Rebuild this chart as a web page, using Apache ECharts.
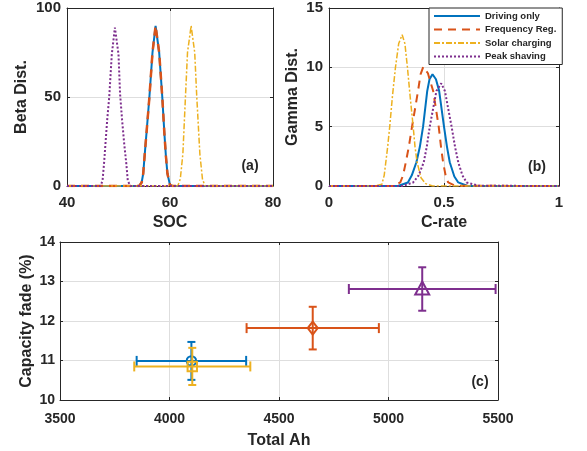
<!DOCTYPE html>
<html>
<head>
<meta charset="utf-8">
<script src="https://cdn.jsdelivr.net/npm/echarts@6/dist/echarts.min.js"></script>
<style>
  html, body { margin: 0; padding: 0; background: #fff; }
  #chart { width: 587px; height: 451px; }
</style>
</head>
<body>
<div id="chart"></div>
<script>
// Usage scenarios (legend order)
const scenarios = ['Driving only', 'Frequency Reg.', 'Solar charging', 'Peak shaving'];

// (a) Beta distribution of SOC, [SOC, density]
const socDriving = [[40,0],[54,0],[54.5,2],[54.8,7],[55.1,18],[55.5,32],[56,50],[56.6,75],[57.2,90],[57.9,75],[58.5,50],[58.9,30],[59.2,17],[59.5,7],[60,0.5],[60.5,0],[80,0]];
const socFreq    = [[40,0],[54,0],[54.5,2],[54.8,7],[55.1,18],[55.5,32],[56,50],[56.6,75],[57.2,90],[57.9,75],[58.5,50],[58.9,30],[59.2,17],[59.5,7],[60,0.5],[60.5,0],[80,0]];
const socSolar   = [[40,0],[61.5,0],[62,4],[62.5,18],[63,50],[63.4,75],[64.1,90],[64.8,75],[65.2,50],[65.8,18],[66.3,4],[66.8,0],[80,0]];
const socPeak    = [[40,0],[46.5,0],[46.9,3],[47.2,13],[47.5,25],[47.8,37],[48.2,50],[48.7,74],[49.3,89],[50,74],[50.3,52],[50.7,37],[51.1,24],[51.5,13],[51.8,3],[52.3,0],[80,0]];

// (b) Gamma distribution of C-rate, [C-rate, density]
const cDriving = [[0,0],[0.30,0],[0.343,0.3],[0.36,0.9],[0.38,2],[0.395,3.3],[0.409,5],[0.427,8],[0.437,9.0],[0.45,9.42],[0.465,9.0],[0.479,8],[0.50,5],[0.513,3.3],[0.525,2],[0.545,0.8],[0.562,0.3],[0.60,0.02],[1,0]];
const cFreq    = [[0,0],[0.28,0],[0.31,0.3],[0.322,0.9],[0.334,2],[0.347,3.3],[0.361,5],[0.387,8],[0.398,9.4],[0.41,10.05],[0.43,9.5],[0.453,8],[0.477,5],[0.487,3.3],[0.496,2],[0.507,0.9],[0.518,0.3],[0.55,0.02],[1,0]];
const cSolar   = [[0,0],[0.20,0],[0.23,0.15],[0.24,0.9],[0.247,2],[0.255,3.3],[0.264,5],[0.276,7.6],[0.289,10],[0.303,12],[0.318,12.75],[0.33,12],[0.341,10],[0.353,7.5],[0.366,5],[0.374,3.3],[0.383,2],[0.40,0.7],[0.42,0.2],[0.45,0],[1,0]];
const cPeak    = [[0,0],[0.32,0],[0.366,0.3],[0.39,0.9],[0.412,2],[0.425,3.3],[0.438,5],[0.467,8],[0.488,8.65],[0.504,8],[0.533,5],[0.548,3.3],[0.562,2],[0.58,0.9],[0.598,0.3],[0.65,0.02],[1,0]];

// (c) Capacity fade vs. total throughput, mean and error half-widths
const totalAh  = [4100, 4654, 4104, 5154];
const totalErr = [250, 302, 265, 335];
const fade     = [10.99, 11.82, 10.85, 12.81];
const fadeErr  = [0.48, 0.54, 0.47, 0.55];

// Axis ticks
const socTicks  = [40, 60, 80];
const betaTicks = [0, 50, 100];
const cTicks    = [0, 0.5, 1];
const gamTicks  = [0, 5, 10, 15];
const ahTicks   = [3500, 4000, 4500, 5000, 5500];
const fadeTicks = [10, 11, 12, 13, 14];

// ---------- styling ----------
const colors = ['#0072BD', '#D95319', '#EDB120', '#7E2F8E'];
const lineStyles = [
  { width: 2,   type: 'solid' },
  { width: 2.5, type: [8, 6] },
  { width: 1.5, type: [6, 2, 2, 2] },
  { width: 2,   type: [2, 2] }
];
const markers = ['circle', 'diamond', 'square', 'triangle'];
const ink = '#262626';
const gridColor = '#dedede';
const FONT = 'Liberation Sans, Arial, Helvetica, sans-serif';

const grids = [
  { left: 67,  top: 8,   width: 206, height: 178 },
  { left: 329, top: 8,   width: 230, height: 178 },
  { left: 60,  top: 242, width: 438, height: 158 }
];

function step(t) { return t[1] - t[0]; }
const plainNumber = v => String(v);

function mainAxis(gridIndex, ticks, name, opts) {
  return Object.assign({
    type: 'value', gridIndex,
    min: ticks[0], max: ticks[ticks.length - 1], interval: step(ticks),
    name, nameLocation: 'middle', nameMoveOverlap: false,
    nameTextStyle: { color: ink, fontFamily: FONT, fontWeight: 'bold', fontSize: 16 },
    axisLine: { show: true, onZero: false, lineStyle: { color: ink, width: 1 } },
    axisTick: { show: true, inside: true, length: 3, lineStyle: { color: ink } },
    axisLabel: { color: ink, fontFamily: FONT, fontWeight: 'bold', fontSize: 15, margin: 9, formatter: plainNumber },
    splitLine: { show: true, lineStyle: { color: gridColor, width: 1 } }
  }, opts);
}
function boxAxis(gridIndex, ticks, position) {
  return {
    type: 'value', gridIndex, position,
    min: ticks[0], max: ticks[ticks.length - 1], interval: step(ticks),
    axisLine: { show: true, onZero: false, lineStyle: { color: ink, width: 1 } },
    axisTick: { show: true, inside: true, length: 3, lineStyle: { color: ink } },
    axisLabel: { show: false },
    splitLine: { show: false }
  };
}
function labelStyle(size, margin) {
  return { color: ink, fontFamily: FONT, fontWeight: 'bold', fontSize: size, margin, formatter: plainNumber };
}

const xAxis = [
  mainAxis(0, socTicks, 'SOC', { position: 'bottom', nameGap: 29 }),
  boxAxis(0, socTicks, 'top'),
  mainAxis(1, cTicks, 'C-rate', { position: 'bottom', nameGap: 29 }),
  boxAxis(1, cTicks, 'top'),
  mainAxis(2, ahTicks, 'Total Ah', { position: 'bottom', nameGap: 33, axisLabel: labelStyle(14, 12) }),
  boxAxis(2, ahTicks, 'top')
];
const yAxis = [
  mainAxis(0, betaTicks, 'Beta Dist.', { position: 'left', nameGap: 37, axisLabel: labelStyle(15, 6) }),
  boxAxis(0, betaTicks, 'right'),
  mainAxis(1, gamTicks, 'Gamma Dist.', { position: 'left', nameGap: 28, axisLabel: labelStyle(15, 6) }),
  boxAxis(1, gamTicks, 'right'),
  mainAxis(2, fadeTicks, 'Capacity fade (%)', { position: 'left', nameGap: 25, axisLabel: labelStyle(14, 5) }),
  boxAxis(2, fadeTicks, 'right')
];

const socSets = [socDriving, socFreq, socSolar, socPeak];
const cSets = [cDriving, cFreq, cSolar, cPeak];

const series = [];
scenarios.forEach((name, i) => {
  series.push({
    name, type: 'line', xAxisIndex: 0, yAxisIndex: 0,
    data: socSets[i], symbol: 'none', animation: false,
    lineStyle: Object.assign({ color: colors[i] }, lineStyles[i]),
    itemStyle: { color: colors[i] }
  });
});
scenarios.forEach((name, i) => {
  series.push({
    name, type: 'line', xAxisIndex: 2, yAxisIndex: 2,
    data: cSets[i], symbol: 'none', animation: false,
    lineStyle: Object.assign({ color: colors[i] }, lineStyles[i], i === 1 ? { width: 2 } : {}),
    itemStyle: { color: colors[i] }
  });
});

// Error-bar marks: horizontal (Ah) and vertical (fade) bars with caps, hollow marker
function errorBarRenderer(color, marker) {
  return function (params, api) {
    const x = api.value(0), y = api.value(1), xe = api.value(2), ye = api.value(3);
    const c = api.coord([x, y]);
    const l = api.coord([x - xe, y]);
    const r = api.coord([x + xe, y]);
    const t = api.coord([x, y + ye]);
    const b = api.coord([x, y - ye]);
    const st = { stroke: color, lineWidth: 2, fill: null };
    const cx = 5, cy = 4;
    const kids = [
      { type: 'line', shape: { x1: l[0], y1: l[1], x2: r[0], y2: r[1] }, style: st },
      { type: 'line', shape: { x1: l[0], y1: l[1] - cx, x2: l[0], y2: l[1] + cx }, style: st },
      { type: 'line', shape: { x1: r[0], y1: r[1] - cx, x2: r[0], y2: r[1] + cx }, style: st },
      { type: 'line', shape: { x1: t[0], y1: t[1], x2: b[0], y2: b[1] }, style: st },
      { type: 'line', shape: { x1: t[0] - cy, y1: t[1], x2: t[0] + cy, y2: t[1] }, style: st },
      { type: 'line', shape: { x1: b[0] - cy, y1: b[1], x2: b[0] + cy, y2: b[1] }, style: st }
    ];
    if (marker === 'circle') {
      kids.push({ type: 'circle', shape: { cx: c[0], cy: c[1], r: 4.7 }, style: st });
    } else if (marker === 'square') {
      kids.push({ type: 'rect', shape: { x: c[0] - 4.7, y: c[1] - 4.7, width: 9.4, height: 9.4 }, style: st });
    } else if (marker === 'diamond') {
      kids.push({ type: 'polygon', shape: { points: [[c[0], c[1] - 6.5], [c[0] + 5, c[1]], [c[0], c[1] + 6.5], [c[0] - 5, c[1]]] }, style: st });
    } else {
      kids.push({ type: 'polygon', shape: { points: [[c[0], c[1] - 7.5], [c[0] + 7, c[1] + 5.5], [c[0] - 7, c[1] + 5.5]] }, style: st });
    }
    return { type: 'group', children: kids };
  };
}

scenarios.forEach((name, i) => {
  series.push({
    name, type: 'custom', xAxisIndex: 4, yAxisIndex: 4, animation: false,
    data: [[totalAh[i], fade[i], totalErr[i], fadeErr[i]]],
    encode: { x: 0, y: 1 },
    itemStyle: { color: colors[i] },
    renderItem: errorBarRenderer(colors[i], markers[i]),
    clip: false
  });
});

const panelTag = (text, x, y) => ({
  type: 'text', x, y, z: 100,
  style: { text, fill: ink, font: 'bold 14px ' + FONT, textAlign: 'center', textVerticalAlign: 'middle' }
});

const chart = echarts.init(document.getElementById('chart'), null, { renderer: 'canvas' });
chart.setOption({
  animation: false,
  backgroundColor: '#ffffff',
  grid: grids.map(g => Object.assign({ containLabel: false }, g)),
  xAxis, yAxis, series,
  legend: {
    data: scenarios,
    orient: 'vertical',
    left: 429, top: 8,
    itemWidth: 46, itemHeight: 10, itemGap: 3.5,
    padding: [3, 6, 3, 4],
    backgroundColor: '#ffffff',
    borderColor: ink, borderWidth: 1, borderRadius: 0,
    selectedMode: false,
    // line-only keys: hide the point symbol
    itemStyle: { opacity: 0 },
    textStyle: { color: ink, fontFamily: FONT, fontWeight: 'bold', fontSize: 9.5 }
  },
  graphic: [
    panelTag('(a)', 250, 166),
    panelTag('(b)', 537, 167),
    panelTag('(c)', 480, 382)
  ]
});
</script>
</body>
</html>
